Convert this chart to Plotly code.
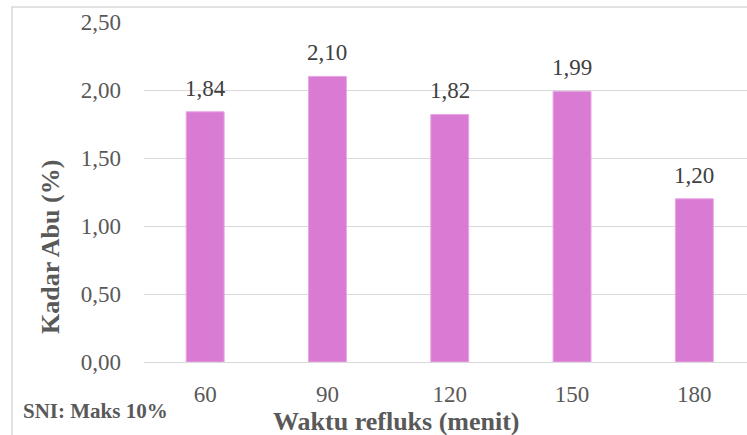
import plotly.graph_objects as go

categories = ["60", "90", "120", "150", "180"]
values = [1.84, 2.10, 1.82, 1.99, 1.20]
y_ticks = [0.0, 0.5, 1.0, 1.5, 2.0, 2.5]
x_title = "Waktu refluks (menit)"
y_title = "Kadar Abu (%)"
note = "SNI: Maks 10%"

BAR = "#DA7BD3"
TXT = "#595959"
GRID = "#D9D9D9"
SERIF = "Liberation Serif, Times New Roman, serif"

W, H = 747, 435
L, T, B = 144, 22, 73
plot_w = W - L
plot_h = H - T - B

fig = go.Figure()
fig.add_trace(go.Bar(
    x=list(range(len(categories))), y=values,
    marker=dict(color=BAR, line=dict(color="#E8A6E4", width=1)),
    width=0.31, hoverinfo="skip",
))

for i, v in enumerate(values):
    fig.add_annotation(
        x=i, y=v, text=f"{v:.2f}".replace(".", ","),
        showarrow=False, yanchor="bottom", yshift=9,
        font=dict(family=SERIF, size=23, color="#404040"),
    )

def px_x(px):
    return (px - L) / plot_w

def px_y(py):
    return (H - B - py) / plot_h

# axis titles and note
fig.add_annotation(x=px_x(396), y=px_y(421), xref="paper", yref="paper",
                   xanchor="center", yanchor="middle",
                   text=f"<b>{x_title}</b>", showarrow=False,
                   font=dict(family=SERIF, size=26, color=TXT))
fig.add_annotation(x=px_x(50), y=px_y(247), xref="paper", yref="paper",
                   xanchor="center", yanchor="middle",
                   text=f"<b>{y_title}</b>", showarrow=False, textangle=-90,
                   font=dict(family=SERIF, size=26, color=TXT))
fig.add_annotation(x=px_x(95), y=px_y(411), xref="paper", yref="paper",
                   xanchor="center", yanchor="middle",
                   text=f"<b>{note}</b>", showarrow=False,
                   font=dict(family=SERIF, size=21, color=TXT))

# chart border
fig.add_shape(type="rect", xref="paper", yref="paper",
              x0=px_x(12), x1=px_x(760), y0=px_y(450), y1=px_y(7),
              line=dict(color=GRID, width=1.5), fillcolor="rgba(0,0,0,0)", layer="below")

fig.update_layout(
    width=W, height=H,
    margin=dict(l=L, r=0, t=T, b=B, pad=0),
    paper_bgcolor="white", plot_bgcolor="white",
    showlegend=False,
    separators=",.",
    xaxis=dict(
        tickmode="array", tickvals=list(range(len(categories))), ticktext=categories,
        range=[-0.5, -0.5 + 5 * plot_w / 611.5],
        showgrid=False, zeroline=False, showline=False,
        ticks="", ticklabelstandoff=16,
        tickfont=dict(family=SERIF, size=23, color=TXT),
        fixedrange=True,
    ),
    yaxis=dict(
        range=[0, 2.5], tickvals=y_ticks, tickformat=".2f",
        showgrid=True, gridcolor=GRID, gridwidth=1.3,
        zeroline=True, zerolinecolor=GRID, zerolinewidth=1.3,
        showline=False, ticks="", ticklabelstandoff=22,
        tickfont=dict(family=SERIF, size=23, color=TXT),
        fixedrange=True,
    ),
)

fig.write_html("out.html")
